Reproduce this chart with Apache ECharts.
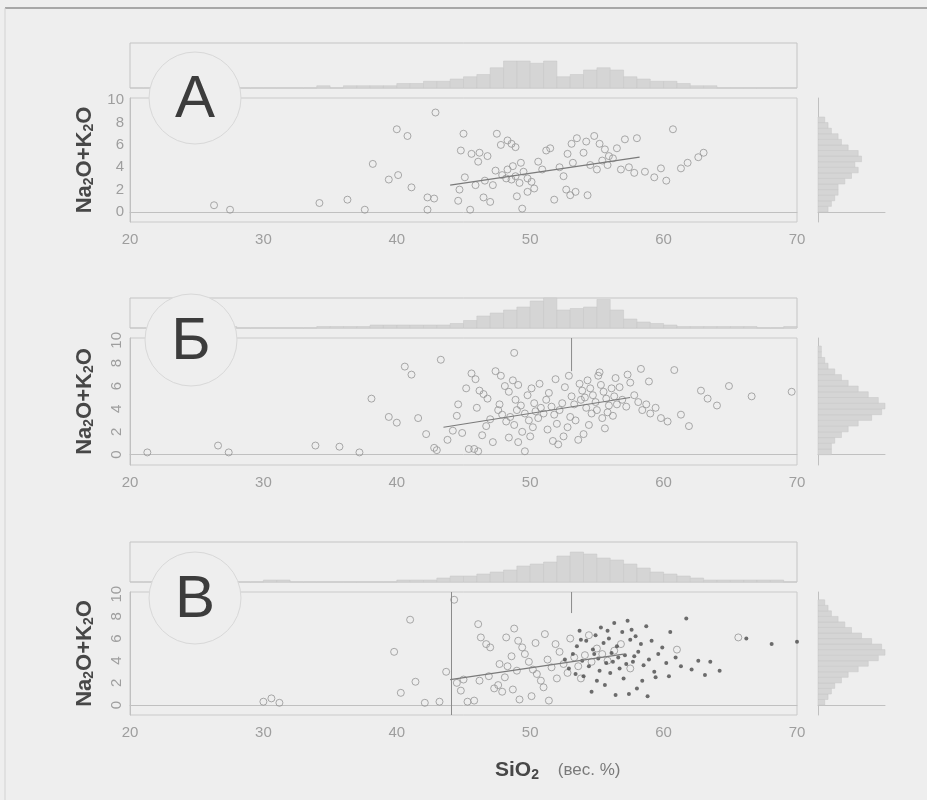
<!DOCTYPE html>
<html>
<head>
<meta charset="utf-8">
<script src="https://cdn.jsdelivr.net/npm/echarts@6/dist/echarts.min.js"></script>
<style>
  html, body { margin: 0; padding: 0; background: #eeeeee; }
  #chart { width: 927px; height: 800px; }
</style>
</head>
<body>
<div id="chart"></div>
<script>
// axis ticks
const xTicks = [20, 30, 40, 50, 60, 70]
const yTicks = [0, 2, 4, 6, 8, 10]

// panel А
const scatterA = [
  [26.3,0.6],[27.5,0.2],[34.2,0.8],[36.3,1.1],[37.6,0.2],[38.2,4.3],[39.4,2.9],[40.1,3.3],[40.0,7.4],[40.8,6.8],
  [41.1,2.2],[42.3,1.3],[42.8,1.2],[42.3,0.2],[42.9,8.9],[44.6,1.0],[44.7,2.0],[45.1,3.1],[44.8,5.5],[45.0,7.0],
  [45.6,5.2],[46.2,5.3],[46.8,5.0],[46.1,4.5],[46.5,1.3],[47.0,0.9],[45.5,0.2],[45.9,2.4],[46.6,2.8],[47.2,2.4],
  [47.5,7.0],[47.8,6.0],[48.3,6.4],[48.6,6.1],[48.9,5.8],[47.9,3.3],[48.2,3.0],[48.6,2.9],[48.9,3.2],[49.2,2.6],
  [49.5,3.6],[49.8,3.0],[50.1,2.7],[49.0,1.4],[49.4,0.3],[49.8,1.8],[50.3,2.1],[50.6,4.5],[50.9,3.8],[51.2,5.5],
  [51.5,5.7],[48.3,3.8],[48.7,4.1],[49.3,4.4],[47.4,3.7],[51.8,1.1],[52.2,4.0],[52.5,3.2],[52.7,2.0],[53.0,1.5],
  [53.4,1.8],[54.3,1.5],[53.1,6.1],[53.5,6.6],[53.2,4.4],[52.8,5.2],[54.2,6.3],[54.8,6.8],[55.2,6.1],[55.6,5.6],
  [55.9,5.0],[55.4,4.6],[55.8,4.2],[56.2,4.8],[56.5,5.7],[54.5,4.2],[54.0,5.3],[55.0,3.8],[56.8,3.8],[57.4,4.0],
  [57.8,3.5],[58.6,3.6],[59.3,3.1],[60.2,2.8],[57.1,6.5],[58.0,6.6],[60.7,7.4],[61.8,4.4],[62.6,4.9],[63.0,5.3],
  [61.3,3.9],[59.8,3.9]
]
const trendA = [[44.0, 2.4], [58.2, 4.9]]
const histTopA = [0,0,0,0,0,0,1,1,0,0, 0,0,0,0,1,0,1,1,1,1, 2,2,3,3,4,5,6,9,12,12,
  11,12,5,6,8,9,8,5,4,3, 3,2,1,1,0,0,0,0,0,0]
const histRightA = [3,4,5,6,6,8,10,12,11,13,12,9,7,6,4,3,2]

// panel Б
const scatterB = [
  [21.3,0.2],[26.6,0.8],[27.4,0.2],[33.9,0.8],[35.7,0.7],[37.2,0.2],[38.1,4.9],[39.4,3.3],[40.0,2.8],[40.6,7.7],
  [41.1,7.0],[41.6,3.2],[42.2,1.8],[42.8,0.6],[43.0,0.4],[43.3,8.3],[43.8,1.3],[44.2,2.1],[44.5,3.4],[44.9,1.9],
  [45.2,5.8],[45.6,7.1],[45.9,6.6],[46.2,5.6],[46.5,5.3],[46.8,4.9],[45.4,0.5],[45.8,0.5],[46.1,0.3],[46.4,1.7],
  [46.7,2.5],[47.0,3.1],[47.2,1.1],[46.0,4.1],[44.6,4.4],[47.4,7.3],[47.8,6.9],[48.1,6.0],[48.4,5.5],[48.7,6.5],
  [48.8,8.9],[49.1,6.1],[47.6,3.9],[47.9,3.5],[48.2,2.9],[48.5,3.3],[48.8,2.6],[49.0,3.9],[49.3,4.3],[49.6,3.6],
  [49.9,3.0],[48.4,1.5],[49.1,1.1],[49.6,0.3],[50.0,1.6],[47.7,4.4],[48.9,4.8],[49.8,5.2],[50.1,5.8],[50.3,4.5],
  [50.4,3.8],[50.2,2.4],[49.4,2.0],[50.6,3.2],[50.8,4.1],[51.0,3.6],[51.2,4.8],[51.4,5.4],[51.6,4.2],[51.8,3.5],
  [52.0,2.7],[52.2,3.9],[52.4,4.5],[51.3,2.2],[51.7,1.2],[52.1,0.9],[52.5,1.6],[52.8,2.4],[53.0,3.3],[52.6,5.9],
  [53.1,5.1],[53.3,4.4],[50.7,6.2],[51.9,6.6],[52.9,6.9],[53.4,3.0],[53.6,1.3],[54.0,1.8],[53.7,6.2],[53.9,5.6],
  [54.1,5.0],[54.3,6.5],[54.5,5.8],[54.7,5.2],[54.9,4.6],[55.1,6.9],[55.3,6.1],[55.5,5.5],[55.7,4.9],[55.9,4.3],
  [56.1,5.8],[56.3,5.1],[56.5,4.4],[54.2,4.1],[54.6,3.6],[55.0,3.9],[55.4,3.2],[55.8,3.7],[56.2,3.4],[56.7,5.9],
  [56.9,4.8],[57.2,4.2],[57.5,6.3],[57.8,5.2],[58.1,4.6],[58.4,3.9],[53.8,4.8],[54.4,2.6],[55.6,2.3],[56.4,6.7],
  [55.2,7.2],[58.7,4.4],[59.0,3.6],[59.4,4.1],[59.8,3.2],[60.3,2.9],[60.8,7.4],[61.3,3.5],[61.9,2.5],[58.9,6.4],
  [57.3,7.0],[58.3,7.5],[62.8,5.6],[63.3,4.9],[64.9,6.0],[66.6,5.1],[69.6,5.5],[64.0,4.3]
]
const trendB = [[43.5, 2.4], [57.5, 5.0]]
const vLinesB = [[53.1, 7.3]]
const histTopB = [0,0,0,0,0,0,1,1,0,0, 0,0,0,0,1,1,1,1,2,2, 2,2,2,2,3,5,8,10,12,14,
  18,20,12,13,14,19,12,6,4,3, 2,1,1,1,1,1,1,0,0,1]
const histRightB = [4,4,5,7,9,12,16,19,20,18,15,12,9,7,5,3,2,1,1]

// panel В
const scatterV1 = [
  [30.0,0.3],[30.6,0.6],[31.2,0.2],[39.8,4.8],[40.3,1.1],[41.0,7.7],[41.4,2.1],[42.1,0.2],[43.2,0.3],[43.7,3.0],
  [44.3,9.5],[44.5,2.0],[44.8,1.3],[45.3,0.3],[45.8,0.4],[46.1,7.3],[46.3,6.1],[46.7,5.5],[47.0,5.2],[47.3,1.5],
  [47.6,1.8],[47.9,1.2],[48.1,2.5],[48.3,3.5],[48.6,4.4],[48.2,6.1],[48.8,6.9],[49.1,5.8],[49.4,5.2],[49.6,4.6],
  [49.9,3.9],[50.2,3.2],[50.5,2.8],[50.8,2.2],[51.0,1.6],[51.4,0.4],[50.1,0.8],[49.2,0.5],[48.7,1.4],[51.3,4.1],
  [51.6,3.4],[51.9,5.5],[52.2,4.8],[52.5,3.7],[52.8,2.9],[53.0,6.0],[53.3,4.3],[52.0,2.4],[51.1,6.4],[50.4,5.6],
  [49.0,3.1],[47.7,3.7],[46.9,2.6],[46.2,2.2],[45.0,2.3],[53.6,3.5],[54.1,4.5],[54.6,3.9],[55.0,5.1],[55.4,4.6],
  [55.8,4.0],[56.3,4.9],[56.8,5.5],[54.4,6.3],[53.8,2.4],[57.5,3.3],[61.0,5.0],[65.6,6.1]
]
const scatterV2 = [
  [53.2,4.6],[53.5,5.3],[53.7,6.7],[53.9,4.0],[54.2,5.8],[54.4,3.5],[54.7,5.0],[54.9,6.3],[55.1,4.2],[55.3,7.0],
  [55.5,5.6],[55.7,3.8],[55.9,6.0],[56.1,4.7],[56.3,7.4],[56.5,5.3],[56.7,3.3],[56.9,6.6],[57.1,4.5],[57.3,7.6],
  [57.5,5.9],[57.7,3.9],[57.9,6.2],[58.1,4.8],[58.3,5.5],[58.5,3.6],[58.7,7.1],[58.9,4.1],[59.1,5.8],[59.3,3.0],
  [59.6,4.6],[59.9,5.2],[60.2,3.8],[60.5,6.6],[60.9,4.3],[61.3,3.5],[61.7,7.8],[62.1,3.2],[62.6,4.0],[63.1,2.7],
  [63.5,3.9],[64.2,3.1],[66.2,6.0],[68.1,5.5],[70.0,5.7],[54.0,2.6],[55.0,2.2],[56.0,2.9],[57.0,2.4],[58.0,1.5],
  [58.8,0.8],[56.4,0.9],[55.6,1.8],[54.6,1.2],[57.4,1.0],[52.6,4.1],[52.9,3.3],[53.4,2.8],[54.8,4.6],[55.2,3.1],
  [56.2,3.9],[56.6,4.3],[57.2,3.7],[57.8,4.4],[59.4,2.5],[60.4,2.6],[58.4,2.2],[53.8,5.9],[55.8,6.7],[57.6,6.8]
]
const trendV = [[44.0, 2.3], [57.0, 4.6]]
const vLinesV = [[44.1, -0.9], [53.1, 8.3]]
const histTopV = [0,0,0,0,0,0,0,0,0,0, 1,1,0,0,0,0,0,0,0,0, 1,1,1,2,3,3,4,5,6,8,
  9,10,13,15,14,12,11,9,7,5, 4,3,2,1,1,1,1,1,1,0]
const histRightV = [2,3,4,5,7,9,12,15,18,20,19,16,13,10,8,6,4,3,2]

const panels = [
  { scatter: [scatterA], trend: trendA, vlines: [], histTop: histTopA, histRight: histRightA,
    top: 43, histH: 45, sTop: 98, sH: 124, rot: 0, letter: 'А', cx: 195, cy: 98 },
  { scatter: [scatterB], trend: trendB, vlines: vLinesB, histTop: histTopB, histRight: histRightB,
    top: 298, histH: 30, sTop: 338, sH: 127, rot: 90, letter: 'Б', cx: 191, cy: 340 },
  { scatter: [scatterV1, scatterV2], trend: trendV, vlines: vLinesV, histTop: histTopV, histRight: histRightV,
    top: 542, histH: 40, sTop: 592, sH: 123, rot: 90, letter: 'В', cx: 195, cy: 598 },
]

const FONT = 'Liberation Sans'
const lineCol = '#c0c0c0'
const tickCol = '#9e9e9e'
const barFill = '#d5d5d5'

const topHistRender = (params, api) => {
  const x0 = api.value(0), c = api.value(1)
  const p0 = api.coord([x0, 0]), p1 = api.coord([x0 + 1, c])
  return { type: 'rect', shape: { x: p0[0], y: p1[1], width: p1[0] - p0[0], height: p0[1] - p1[1] },
    style: { fill: barFill, stroke: '#c6c6c6', lineWidth: 0.5 } }
}
const rightHistRender = (params, api) => {
  const y0 = api.value(0), c = api.value(1)
  const p0 = api.coord([0, y0]), p1 = api.coord([c, y0 + 0.5])
  return { type: 'rect', shape: { x: p0[0], y: p1[1], width: p1[0] - p0[0], height: p0[1] - p1[1] },
    style: { fill: barFill, stroke: '#c6c6c6', lineWidth: 0.5 } }
}

const grid = [], xAxis = [], yAxis = [], series = [], graphic = []
const nameRich = {
  b: { fontSize: 22, fontWeight: 'bold', color: '#474747', fontFamily: FONT },
  s: { fontSize: 14, fontWeight: 'bold', color: '#474747', fontFamily: FONT, verticalAlign: 'bottom', padding: [8, 0, 0, 0] },
}

panels.forEach((p, i) => {
  const g = i * 3
  grid.push({ left: 130, right: 130, top: p.top, height: p.histH, show: true, borderColor: '#c4c4c4', borderWidth: 1 })
  grid.push({ left: 130, right: 130, top: p.sTop, height: p.sH, show: true, borderColor: '#cacaca', borderWidth: 1 })
  grid.push({ left: 818, right: 42, top: p.sTop, height: p.sH })

  xAxis.push({ type: 'value', gridIndex: g, min: 20, max: 70, show: false })
  xAxis.push({
    type: 'value', gridIndex: g + 1, min: xTicks[0], max: xTicks[xTicks.length - 1], interval: 10,
    axisLine: { lineStyle: { color: lineCol } }, axisTick: { show: false }, splitLine: { show: false },
    axisLabel: { color: tickCol, fontSize: 15, fontFamily: FONT, margin: 10 },
  })
  xAxis.push({
    type: 'value', gridIndex: g + 2, min: 0, max: 20, position: 'top',
    axisLine: { show: true, lineStyle: { color: lineCol } }, axisTick: { show: false },
    axisLabel: { show: false }, splitLine: { show: false },
  })

  yAxis.push({ type: 'value', gridIndex: g, min: 0, max: 20, show: false })
  yAxis.push({
    type: 'value', gridIndex: g + 1, min: -0.9, max: 10.2,
    axisLine: { show: true, lineStyle: { color: lineCol } }, axisTick: { show: false }, splitLine: { show: false },
    axisLabel: { customValues: yTicks, color: tickCol, fontSize: 15, fontFamily: FONT, margin: 6, rotate: p.rot },
    name: '{b|Na}{s|2}{b|O+K}{s|2}{b|O}', nameLocation: 'middle', nameRotate: 90, nameGap: 34,
    nameTextStyle: { rich: nameRich },
  })
  yAxis.push({
    type: 'value', gridIndex: g + 2, min: -0.9, max: 10.2,
    axisLine: { show: true, lineStyle: { color: lineCol } }, axisTick: { show: false },
    axisLabel: { show: false }, splitLine: { show: false },
  })

  series.push({
    type: 'custom', xAxisIndex: g, yAxisIndex: g, renderItem: topHistRender,
    data: p.histTop.map((c, k) => [xTicks[0] + k, c]), silent: true,
  })
  series.push({
    type: 'custom', xAxisIndex: g + 2, yAxisIndex: g + 2, renderItem: rightHistRender,
    data: p.histRight.map((c, k) => [k * 0.5, c]), silent: true,
  })
  p.vlines.forEach(v => {
    series.push({
      type: 'line', xAxisIndex: g + 1, yAxisIndex: g + 1, symbol: 'none', silent: true,
      lineStyle: { color: '#8a8a8a', width: 1 }, data: [[v[0], 10.2], [v[0], v[1]]],
    })
  })
  series.push({
    type: 'scatter', xAxisIndex: g + 1, yAxisIndex: g + 1, data: p.scatter[0], symbolSize: 7,
    itemStyle: { color: 'rgba(0,0,0,0)', borderColor: '#959595', borderWidth: 1 },
  })
  if (p.scatter[1]) {
    series.push({
      type: 'scatter', xAxisIndex: g + 1, yAxisIndex: g + 1, data: p.scatter[1], symbolSize: 4,
      itemStyle: { color: '#4a4a4a' },
    })
  }
  series.push({
    type: 'line', xAxisIndex: g + 1, yAxisIndex: g + 1, data: p.trend, symbol: 'none', silent: true,
    lineStyle: { color: '#7a7a7a', width: 1.2 }, z: 5,
  })

  graphic.push({ type: 'circle', z: 100, shape: { cx: p.cx, cy: p.cy, r: 46 },
    style: { fill: '#eeeeee', stroke: '#d8d8d8', lineWidth: 1 } })
  graphic.push({ type: 'text', z: 101, x: p.cx, y: p.cy + 2,
    style: { text: p.letter, font: '60px "Liberation Sans"', fill: '#3c3c3c', align: 'center', verticalAlign: 'middle' } })
})

graphic.push({ type: 'line', z: 100, shape: { x1: 5, y1: 8, x2: 927, y2: 8 }, style: { stroke: '#8f8f8f', lineWidth: 1.5 } })
graphic.push({ type: 'line', z: 100, shape: { x1: 5, y1: 8, x2: 5, y2: 800 }, style: { stroke: '#d2d2d2', lineWidth: 1 } })

const chart = echarts.init(document.getElementById('chart'))
chart.setOption({
  backgroundColor: '#eeeeee',
  animation: false,
  title: {
    left: 490, top: 754,
    text: '{b|SiO}{s|2}{n|    (вес. %)}',
    textStyle: { fontWeight: 'normal', rich: {
      b: { fontSize: 21, fontWeight: 'bold', color: '#474747', fontFamily: FONT },
      s: { fontSize: 14, fontWeight: 'bold', color: '#474747', fontFamily: FONT, verticalAlign: 'bottom', padding: [9, 0, 0, 0] },
      n: { fontSize: 17, fontWeight: 'normal', color: '#7a7a7a', fontFamily: FONT },
    } },
  },
  grid, xAxis, yAxis, series, graphic,
})
</script>
</body>
</html>
